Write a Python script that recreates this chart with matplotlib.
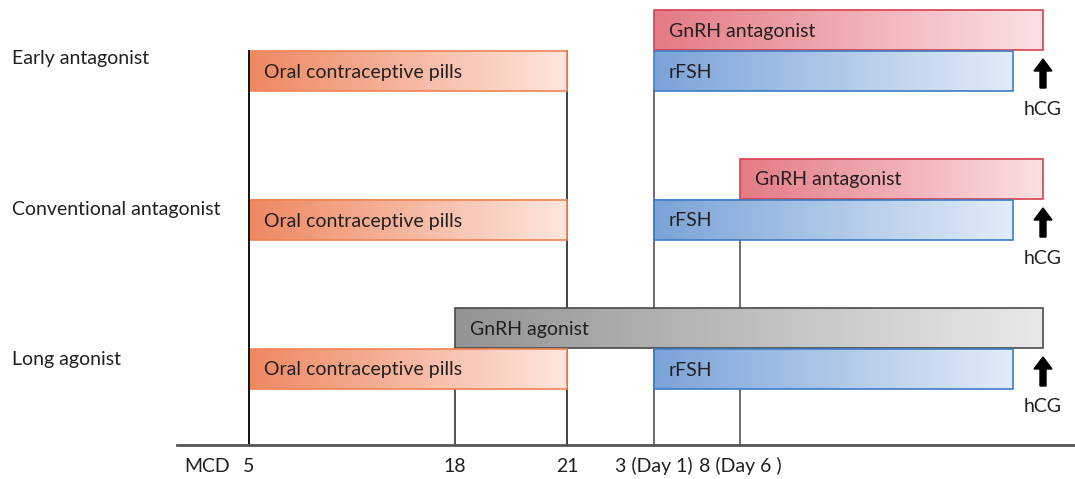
import numpy as np
import matplotlib.pyplot as plt
from matplotlib.patches import Rectangle, FancyArrow
from matplotlib.colors import LinearSegmentedColormap

plt.rcParams['font.family'] = ['Lato', 'DejaVu Sans']

# schematic timeline labels (menstrual cycle day)
tick_labels = ["5", "18", "21", "3 (Day 1)", "8 (Day 6 )"]
protocols = ["Early antagonist", "Conventional antagonist", "Long agonist"]

# drug periods per protocol
ocp_start = ["5", "5", "5"]
ocp_end = ["21", "21", "21"]
fsh_start = ["3 (Day 1)", "3 (Day 1)", "3 (Day 1)"]
upper_drug = ["GnRH antagonist", "GnRH antagonist", "GnRH agonist"]
upper_start = ["3 (Day 1)", "8 (Day 6 )", "18"]

# layout (pixels on a 1075 x 479 canvas)
tick_x = dict(zip(tick_labels, [249, 455, 567, 654, 740]))
hcg_x = 1043
fsh_end_x = 1013
row_top = [10, 159, 308]  # top of upper bar in each row
bar_h = 40
fs = 14

styles = {
    "Oral contraceptive pills": ("#ee8862", "#fde6de", "#f0844f"),
    "rFSH": ("#7ba3d8", "#e2ecf8", "#3b7dc6"),
    "GnRH antagonist": ("#e47a85", "#fbe1e4", "#d8404e"),
    "GnRH agonist": ("#939393", "#e9e9e9", "#4a4a4a"),
}

fig = plt.figure(figsize=(10.75, 4.79), dpi=100)
ax = fig.add_axes([0, 0, 1, 1])
ax.set_xlim(0, 1075)
ax.set_ylim(479, 0)
ax.axis('off')

axis_y = 445


def bar(x0, x1, y0, name, z=3):
    c0, c1, edge = styles[name]
    cmap = LinearSegmentedColormap.from_list(name, [c0, c1])
    grad = np.linspace(0, 1, 256).reshape(1, -1)
    ax.imshow(grad, cmap=cmap, extent=(x0, x1, y0 + bar_h, y0), aspect='auto',
              zorder=z, interpolation='bilinear')
    ax.add_patch(Rectangle((x0, y0), x1 - x0, bar_h, fill=False, ec=edge,
                           lw=1.2, zorder=z + 1))
    ax.text(x0 + 15, y0 + bar_h / 2 + 1, name, fontsize=fs, va='center',
            ha='left', color='#231f20', zorder=z + 2)


# vertical reference lines
ax.plot([tick_x["5"]] * 2, [row_top[0] + 41, axis_y], color='#111111', lw=1.4, zorder=1)
ax.plot([tick_x["21"]] * 2, [row_top[0] + 41, axis_y], color='#222222', lw=1.2, zorder=1)
ax.plot([tick_x["3 (Day 1)"]] * 2, [row_top[0] + 81, axis_y], color='#555555', lw=1.2, zorder=1)
ax.plot([tick_x["8 (Day 6 )"]] * 2, [row_top[1] + 81, axis_y], color='#555555', lw=1.2, zorder=1)
ax.plot([tick_x["18"]] * 2, [row_top[2] + 40, axis_y], color='#333333', lw=1.2, zorder=1)

# horizontal time axis
ax.plot([177, 1075], [axis_y, axis_y], color='#555555', lw=2, zorder=1)

for i, proto in enumerate(protocols):
    top = row_top[i]
    low = top + bar_h + 1
    bar(tick_x[upper_start[i]], hcg_x, top, upper_drug[i])
    bar(tick_x[fsh_start[i]], fsh_end_x, low, "rFSH")
    bar(tick_x[ocp_start[i]], tick_x[ocp_end[i]], low, "Oral contraceptive pills")
    # the MCD 5 line shows through the left edge of the pill bar
    ax.plot([tick_x[ocp_start[i]]] * 2, [low, low + bar_h], color='#111111',
            lw=1.4, zorder=6)
    ax.text(12, top + 48 + (3 if i else 0), proto, fontsize=fs, va='center',
            ha='left', color='#231f20')
    # hCG trigger
    ax.add_patch(FancyArrow(hcg_x, low + 37, 0, -29, width=6, head_width=18,
                            head_length=12, length_includes_head=True,
                            color='black', zorder=5))
    ax.text(hcg_x, low + 58, "hCG", fontsize=fs, va='center', ha='center',
            color='#231f20')

# tick labels
ax.text(207, 466, "MCD", fontsize=fs, va='center', ha='center', color='#231f20')
for lab in tick_labels:
    ax.text(tick_x[lab], 466, lab, fontsize=fs, va='center', ha='center',
            color='#231f20')

fig.savefig("out.png", dpi=100)
